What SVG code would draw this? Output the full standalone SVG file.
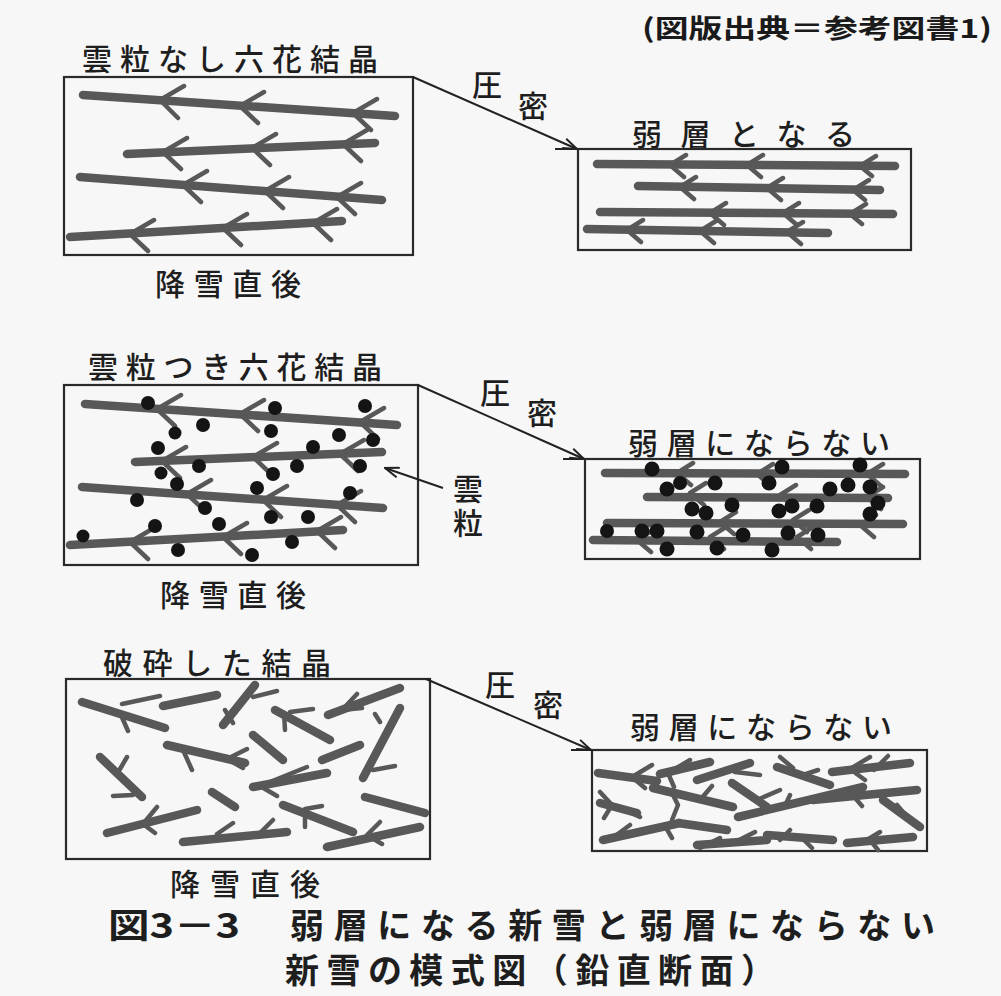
<svg xmlns="http://www.w3.org/2000/svg" width="1001" height="996" viewBox="0 0 1001 996">
  <defs>
    <marker id="open-arrow" viewBox="0 0 16 12" refX="15" refY="6" markerWidth="16" markerHeight="12" markerUnits="userSpaceOnUse" orient="auto">
      <path d="M1 1 L15 6 L1 11" fill="none" stroke="#222" stroke-width="2"/>
    </marker>
    <style>
      .box { fill: none; stroke: #2a2a2a; stroke-width: 2.2; }
      .stem { fill: none; stroke: #585858; stroke-width: 8.5; stroke-linecap: round; stroke-linejoin: round; }
      .arm { fill: none; stroke: #585858; stroke-width: 4.5; stroke-linecap: round; stroke-linejoin: round; }
      .drop { fill: #141414; }
      .conn { fill: none; stroke: #222; stroke-width: 2; }
      .lbl { font-family: "Noto Sans CJK JP", "Noto Sans", sans-serif; font-size: 30px; fill: #1e1e1e; font-weight: 500; }
      .vert { writing-mode: vertical-rl; letter-spacing: 4px; }
      .cap { font-family: "Noto Sans CJK JP", "Noto Sans", sans-serif; font-size: 34px; fill: #1e1e1e; font-weight: 700; }
      .src { font-family: "Noto Sans CJK JP", "Noto Sans", sans-serif; font-size: 26px; fill: #1a1a1a; font-weight: 700; }
    </style>
  </defs>

  <rect width="1001" height="996" fill="#f7f7f7"/>

  <text class="src" x="642" y="38" textLength="350" lengthAdjust="spacingAndGlyphs">(図版出典＝参考図書1)</text>

  <!-- Row 1: dendrites without rime -->
  <g id="row1-before">
    <text class="lbl" x="82" y="70" textLength="296" lengthAdjust="spacing">雲粒なし六花結晶</text>
    <rect class="box" x="64" y="77" width="349" height="178"/>
    <path class="stem" d="M83 95 L395 116 M127 154 L375 143 M80 177 L382 200 M70 237 L342 221"/>
    <path class="arm" d="M184 86 L160 100 L178 118 M264 92 L240 106 L258 123 M377 99 L353 113 L371 130
      M187 138 L163 152 L181 169 M276 134 L252 148 L270 165 M367 130 L343 144 L361 161
      M207 171 L183 185 L201 202 M289 177 L265 191 L283 208 M361 183 L337 197 L355 214
      M154 220 L130 234 L148 251 M247 214 L223 228 L241 245 M337 209 L313 223 L331 240"/>
    <text class="lbl" x="155" y="295" textLength="146" lengthAdjust="spacing">降雪直後</text>
  </g>

  <g id="row1-after">
    <text class="lbl" x="632" y="145" textLength="223" lengthAdjust="spacing">弱層となる</text>
    <rect class="box" x="578" y="149" width="333" height="101"/>
    <path class="stem" d="M597 164 L895 166 M638 186 L880 190 M600 212 L893 214 M587 229 L828 233"/>
    <path class="arm" d="M686 155 L670 165 L684 177 M763 155 L747 165 L761 177 M876 156 L860 166 L872 176
      M696 177 L680 187 L694 199 M783 178 L767 188 L781 200 M869 180 L853 190 L865 200
      M726 203 L710 213 L724 225 M799 203 L783 213 L797 225 M866 204 L850 214 L862 224
      M643 220 L627 230 L641 242 M716 221 L700 231 L714 243 M803 222 L787 232 L801 244"/>
  </g>

  <!-- Row 2: rimed dendrites -->
  <g id="row2-before">
    <text class="lbl" x="88" y="378" textLength="294" lengthAdjust="spacing">雲粒つき六花結晶</text>
    <rect class="box" x="64" y="385" width="354" height="180"/>
    <path class="stem" d="M85 404 L397 425 M135 462 L382 452 M82 487 L383 508 M70 545 L343 530"/>
    <path class="arm" d="M181 395 L157 409 L175 426 M264 400 L240 414 L258 431 M384 408 L360 422 L378 439
      M186 447 L162 461 L180 478 M277 443 L253 457 L271 474 M364 440 L340 454 L358 471
      M211 480 L187 494 L205 511 M287 486 L263 500 L281 517 M361 491 L337 505 L355 522
      M154 528 L130 542 L148 559 M247 523 L223 537 L241 554 M341 517 L317 531 L335 548"/>
    <g class="drop">
      <circle cx="148" cy="403" r="7"/><circle cx="275" cy="408" r="7"/><circle cx="365" cy="406" r="7"/>
      <circle cx="175" cy="433" r="6.5"/><circle cx="203" cy="425" r="7"/><circle cx="271" cy="431" r="7"/>
      <circle cx="339" cy="435" r="7"/><circle cx="373" cy="440" r="7"/><circle cx="158" cy="448" r="7"/>
      <circle cx="313" cy="447" r="7"/><circle cx="199" cy="466" r="7"/><circle cx="161" cy="473" r="6.5"/>
      <circle cx="297" cy="466" r="7"/><circle cx="273" cy="474" r="7"/><circle cx="360" cy="466" r="7"/>
      <circle cx="177" cy="484" r="7"/><circle cx="257" cy="488" r="7"/><circle cx="350" cy="493" r="7"/>
      <circle cx="137" cy="500" r="7"/><circle cx="205" cy="508" r="7"/><circle cx="271" cy="517" r="7"/>
      <circle cx="308" cy="517" r="7"/><circle cx="155" cy="526" r="7"/><circle cx="219" cy="524" r="7"/>
      <circle cx="83" cy="536" r="6.5"/><circle cx="292" cy="542" r="7"/><circle cx="178" cy="550" r="7"/>
      <circle cx="252" cy="555" r="7"/>
    </g>
    <text class="lbl" x="160" y="606" textLength="146" lengthAdjust="spacing">降雪直後</text>
  </g>

  <!-- rime label, set vertically -->
  <g id="rime-label">
    <text class="lbl vert" x="468" y="474" font-size="29">雲粒</text>
  </g>

  <g id="row2-after">
    <text class="lbl" x="628" y="454" textLength="262" lengthAdjust="spacing">弱層にならない</text>
    <rect class="box" x="585" y="459" width="335" height="100"/>
    <path class="stem" d="M605 473 L905 474 M647 497 L888 498 M607 523 L903 524 M593 540 L837 542"/>
    <path class="arm" d="M693 463 L677 473 L691 485 M773 464 L757 474 L771 486 M883 464 L867 474 L881 486
      M706 483 L690 493 L704 505 M796 485 L780 495 L794 507 M883 487 L867 497 L881 509
      M736 512 L720 522 L734 534 M809 510 L793 520 L807 532 M876 515 L860 525 L874 537
      M653 530 L637 540 L651 552 M726 527 L710 537 L724 549 M813 527 L797 537 L811 549"/>
    <g class="drop">
      <circle cx="652" cy="469" r="7.5"/><circle cx="782" cy="467" r="7.5"/><circle cx="860" cy="465" r="7.5"/>
      <circle cx="667" cy="489" r="7.5"/><circle cx="680" cy="483" r="7"/><circle cx="715" cy="483" r="7.5"/>
      <circle cx="769" cy="483" r="7.5"/><circle cx="830" cy="489" r="7.5"/><circle cx="848" cy="485" r="7.5"/>
      <circle cx="870" cy="487" r="7.5"/><circle cx="878" cy="503" r="7.5"/><circle cx="732" cy="505" r="7.5"/>
      <circle cx="692" cy="509" r="7.5"/><circle cx="706" cy="513" r="7.5"/><circle cx="779" cy="511" r="7.5"/>
      <circle cx="792" cy="506" r="7.5"/><circle cx="817" cy="506" r="7.5"/><circle cx="870" cy="514" r="7.5"/>
      <circle cx="607" cy="531" r="7"/><circle cx="642" cy="531" r="7.5"/><circle cx="657" cy="531" r="7.5"/>
      <circle cx="697" cy="532" r="7.5"/><circle cx="743" cy="535" r="7.5"/><circle cx="788" cy="533" r="7.5"/>
      <circle cx="818" cy="535" r="7.5"/><circle cx="667" cy="549" r="7.5"/><circle cx="717" cy="548" r="7.5"/>
      <circle cx="772" cy="550" r="7.5"/>
    </g>
  </g>

  <!-- Row 3: broken crystals -->
  <g id="row3-before">
    <text class="lbl" x="103" y="674" textLength="228" lengthAdjust="spacing">破砕した結晶</text>
    <rect class="box" x="66" y="679" width="364" height="180"/>
    <path class="stem" d="M82 702 L165 728 M163 706 L217 695 M223 725 L255 685 M275 710 L330 740
      M328 715 L400 688 M363 778 L400 708 M167 745 L245 763 M253 735 L283 760 M322 760 L360 745
      M100 757 L142 797 M253 787 L327 773 M212 792 L235 807 M365 797 L425 813 M107 833 L197 810
      M283 805 L353 832 M183 842 L287 832 M327 847 L420 827"/>
    <path class="arm" d="M160 696 L122 704 M121 715 L128 731 M225 710 L233 723 M253 697 L277 691
      M284 713 L285 730 M290 712 L313 709 M357 694 L342 710 L362 708 M380 722 L375 714 M395 766 L373 770
      M247 749 L227 759 L243 768 M183 750 L192 770 M127 757 L120 769 M113 796 L133 795
      M307 767 L260 786 L277 796 M157 807 L143 824 L155 833 M305 809 L305 827 M305 809 L322 806
      M217 834 L233 823 M260 833 L273 820 M380 822 L367 835 L382 844"/>
    <text class="lbl" x="170" y="895" textLength="150" lengthAdjust="spacing">降雪直後</text>
  </g>

  <g id="row3-after">
    <text class="lbl" x="630" y="738" textLength="262" lengthAdjust="spacing">弱層にならない</text>
    <rect class="box" x="592" y="750" width="335" height="101"/>
    <path class="stem" d="M598 773 L657 781 M660 774 L710 762 M697 780 L750 763 M777 767 L830 785
      M832 772 L910 763 M653 788 L733 807 M732 783 L767 807 M738 817 L863 787 M813 800 L917 790
      M600 803 L637 813 M603 840 L680 823 M678 823 L727 830 M697 845 L767 840 M767 835 L833 840
      M847 843 L913 837 M883 800 L920 827"/>
    <path class="arm" d="M652 765 L632 777 L645 788 M690 760 L668 773 L674 787 M735 772 L760 775
      M793 768 L780 757 M800 776 L818 770 M870 757 L850 769 L865 780 M888 756 L874 770
      M672 793 L678 805 L672 820 M700 800 L712 786 M757 800 L780 790 M785 806 L790 795
      M832 798 L850 792 L862 806 M600 792 L612 805 L604 818 M625 810 L640 817
      M615 836 L630 825 M665 826 L672 838 M720 838 L700 848 M735 842 L755 832
      M780 840 L790 830 M800 836 L812 848 M862 843 L880 832 M870 840 L878 850 M897 805 L908 818"/>
  </g>

  <!-- compaction arrows and their labels -->
  <g id="connectors">
    <path class="conn" d="M413 77 L577 149" marker-end="url(#open-arrow)"/>
    <path class="conn" d="M555 149 L578 149"/>
    <path class="conn" d="M418 385 L584 459" marker-end="url(#open-arrow)"/>
    <path class="conn" d="M563 459 L585 459"/>
    <path class="conn" d="M426 679 L591 750" marker-end="url(#open-arrow)"/>
    <path class="conn" d="M571 750 L592 750"/>
    <path class="conn" d="M443 488 L385 468" marker-end="url(#open-arrow)"/>
  </g>

  <g id="compaction-labels">
    <text class="lbl" x="472" y="96" font-size="32">圧</text>
    <text class="lbl" x="518" y="117">密</text>
    <text class="lbl" x="480" y="404" font-size="32">圧</text>
    <text class="lbl" x="527" y="424">密</text>
    <text class="lbl" x="485" y="696" font-size="32">圧</text>
    <text class="lbl" x="533" y="716">密</text>
  </g>

  <g id="caption">
    <text class="cap" x="108" y="938" textLength="132" lengthAdjust="spacingAndGlyphs">図3－3</text>
    <text class="cap" x="290" y="938" textLength="645" lengthAdjust="spacing">弱層になる新雪と弱層にならない</text>
    <text class="cap" x="285" y="983" textLength="490" lengthAdjust="spacing">新雪の模式図（鉛直断面）</text>
  </g>
</svg>
